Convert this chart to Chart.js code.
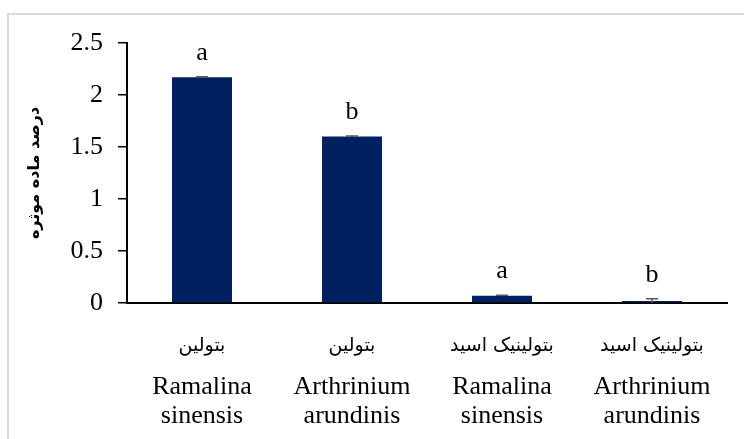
<!DOCTYPE html>
<html>
<head>
<meta charset="utf-8">
<script src="https://cdn.jsdelivr.net/npm/chart.js@4.4.1/dist/chart.umd.min.js"></script>
<style>
  html, body { margin: 0; padding: 0; background: #fff; }
  #wrap { width: 744px; height: 439px; }
</style>
</head>
<body>
<div id="wrap"><canvas id="chart" width="744" height="439"></canvas></div>
<script>
// compound names (Persian) and organisms
const compounds = ['بتولین', 'بتولین', 'بتولینیک اسید', 'بتولینیک اسید'];
const organisms = [['Ramalina', 'sinensis'], ['Arthrinium', 'arundinis'], ['Ramalina', 'sinensis'], ['Arthrinium', 'arundinis']];
const values = [2.17, 1.60, 0.07, 0.02];
const errors = [0.005, 0.005, 0.005, 0.02];
const letters = ['a', 'b', 'a', 'b'];
const yTicks = [0, 0.5, 1, 1.5, 2, 2.5];
const yTitle = 'درصد ماده موثره';

const serif = '"Liberation Serif", "Times New Roman", serif';
const persian = '"DejaVu Sans", sans-serif';

// frame, error bars, significance letters and two-line category labels
const extras = {
    id: 'extras',
    beforeDraw(chart) {
        const ctx = chart.ctx;
        ctx.save();
        ctx.fillStyle = '#fff';
        ctx.fillRect(0, 0, chart.width, chart.height);
        ctx.strokeStyle = '#d9d9d9';
        ctx.lineWidth = 2;
        ctx.beginPath();
        ctx.moveTo(8, chart.height);
        ctx.lineTo(8, 14);
        ctx.lineTo(chart.width, 14);
        ctx.stroke();
        ctx.restore();
    },
    afterDatasetsDraw(chart) {
        const ctx = chart.ctx;
        const x = chart.scales.x, y = chart.scales.y;
        ctx.save();
        values.forEach((v, i) => {
            const cx = x.getPixelForValue(i);
            const top = y.getPixelForValue(v + errors[i]);
            const bot = y.getPixelForValue(Math.max(0, v - errors[i]));
            ctx.strokeStyle = '#595959';
            ctx.lineWidth = 1.5;
            ctx.beginPath();
            ctx.moveTo(cx, top); ctx.lineTo(cx, bot);
            ctx.moveTo(cx - 6, top); ctx.lineTo(cx + 6, top);
            ctx.stroke();

            ctx.fillStyle = '#000';
            ctx.textAlign = 'center';
            ctx.textBaseline = 'alphabetic';
            ctx.font = '26px ' + serif;
            ctx.fillText(letters[i], cx, top - 17);

            ctx.font = '19px ' + persian;
            ctx.fillText(compounds[i], cx, 351);
            ctx.font = '26px ' + serif;
            ctx.fillText(organisms[i][0], cx, 394);
            ctx.fillText(organisms[i][1], cx, 423);
        });
        ctx.restore();
    }
};

new Chart(document.getElementById('chart'), {
    type: 'bar',
    data: {
        labels: organisms.map(o => o.join(' ')),
        datasets: [{
            data: values,
            backgroundColor: '#002060',
            borderWidth: 0,
            barPercentage: 0.4,
            categoryPercentage: 1.0
        }]
    },
    options: {
        responsive: false,
        animation: false,
        devicePixelRatio: 1,
        layout: { padding: { top: 43, right: 17, bottom: 0, left: 0 } },
        plugins: { legend: { display: false }, tooltip: { enabled: false } },
        scales: {
            x: {
                grid: { display: false, drawTicks: false },
                border: { display: true, color: '#000', width: 2 },
                ticks: { display: false },
                afterFit: (s) => { s.height = 136; }
            },
            y: {
                min: 0,
                max: 2.5,
                afterBuildTicks: (s) => { s.ticks = yTicks.map(v => ({ value: v })); },
                grid: { drawOnChartArea: false, drawTicks: true, tickLength: 9, color: '#000', lineWidth: 1.5 },
                border: { display: true, color: '#000', width: 2 },
                ticks: {
                    padding: 15,
                    color: '#000',
                    font: { family: serif, size: 26 },
                    callback: (v) => String(v)
                },
                title: {
                    display: true,
                    text: yTitle,
                    color: '#000',
                    font: { family: persian, size: 16, weight: 'bold' },
                    padding: { top: 25, bottom: 0 }
                },
                afterFit: (s) => { s.width = 127; }
            }
        }
    },
    plugins: [extras]
});
</script>
</body>
</html>
